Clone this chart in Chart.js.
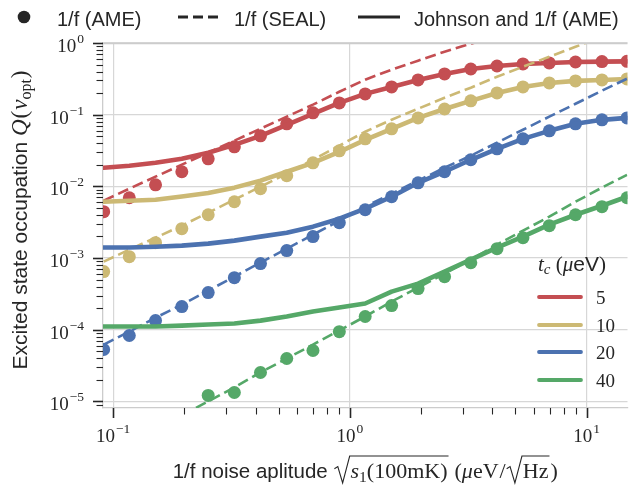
<!DOCTYPE html>
<html>
<head>
<meta charset="utf-8">
<script src="https://cdn.jsdelivr.net/npm/chart.js@4.4.1/dist/chart.umd.min.js"></script>
<style>
  html, body { margin: 0; padding: 0; background: #fff; }
  #c { display: block; }
</style>
</head>
<body>
<canvas id="c" width="634" height="485" style="width:634px;height:485px"></canvas>
<script>
// 1/f noise amplitude sqrt(s1(100mK)) in ueV/sqrt(Hz), shared by every series
const noiseAmp = [0.0912, 0.117, 0.151, 0.195, 0.252, 0.325, 0.419, 0.541, 0.698, 0.902,
                  1.16, 1.50, 1.94, 2.51, 3.24, 4.18, 5.38, 6.95, 8.97, 11.6, 14.8];

const tcLabels = ['5', '10', '20', '40'];
const tcColors = ['#C44E52', '#CCB974', '#4C72B0', '#55A868'];

// dots: 1/f (AME)
const ame5  = [0.00443, 0.00694, 0.0105, 0.0160, 0.0242, 0.0356, 0.0507, 0.0745, 0.106, 0.146,
               0.195, 0.244, 0.305, 0.370, 0.434, 0.478, 0.510, 0.527, 0.543, 0.55, 0.555];
const ame10 = [6.47e-4, 1.045e-3, 1.64e-3, 2.57e-3, 4.02e-3, 6.10e-3, 9.27e-3, 0.0141, 0.0213, 0.0313,
               0.0460, 0.0634, 0.0902, 0.120, 0.156, 0.201, 0.244, 0.277, 0.296, 0.305, 0.315];
const ame20 = [5.30e-5, 8.30e-5, 1.34e-4, 2.10e-4, 3.30e-4, 5.33e-4, 8.36e-4, 1.27e-3, 1.99e-3, 3.11e-3,
               4.72e-3, 7.16e-3, 0.0112, 0.0160, 0.0235, 0.0334, 0.0460, 0.0595, 0.0745, 0.0847, 0.0902];
const ame40 = [null, null, null, null, 1.21e-5, 1.33e-5, 2.53e-5, 3.97e-5, 5.13e-5, 9.4e-5,
               1.53e-4, 2.17e-4, 3.75e-4, 5.5e-4, 8.6e-4, 1.35e-3, 1.92e-3, 2.83e-3, 4.02e-3, 5.2e-3, 6.94e-3];

// dashed: 1/f (SEAL)
const seal5  = [0.00632, 0.00929, 0.01365, 0.0201, 0.0295, 0.0434, 0.0638, 0.0938, 0.138, 0.209,
                0.308, 0.424, 0.567, 0.757, 0.977, 1.26, 1.58, null, null, null, null];
const seal10 = [8.91e-4, 1.31e-3, 1.92e-3, 2.83e-3, 4.29e-3, 6.52e-3, 9.89e-3, 0.0150, 0.0236, 0.0370,
                0.0579, 0.0851, 0.121, 0.172, 0.238, 0.338, 0.466, 0.643, 0.885, 1.22, 1.64];
const seal20 = [6.19e-5, 9.40e-5, 1.47e-4, 2.24e-4, 3.51e-4, 5.50e-4, 8.63e-4, 1.35e-3, 2.12e-3, 3.32e-3,
                5.21e-3, 7.91e-3, 0.0120, 0.0182, 0.0268, 0.0407, 0.0617, 0.0938, 0.142, 0.216, 0.318];
const seal40 = [null, null, null, 6.4e-6, 1.0e-5, 1.57e-5, 2.53e-5, 3.97e-5, 6.2e-5, 9.75e-5,
                1.53e-4, 2.47e-4, 3.87e-4, 6.07e-4, 9.5e-4, 1.54e-3, 2.41e-3, 3.78e-3, 6.1e-3, 9.6e-3, 0.0145];

// solid: Johnson and 1/f (AME)
const joh5  = [0.0182, 0.0194, 0.0213, 0.0242, 0.0294, 0.0379, 0.0507, 0.0721, 0.103, 0.146,
               0.195, 0.244, 0.305, 0.370, 0.434, 0.478, 0.510, 0.527, 0.543, 0.55, 0.555];
const joh10 = [6.10e-3, 6.3e-3, 6.5e-3, 7.2e-3, 8.1e-3, 9.6e-3, 0.0120, 0.0160, 0.0213, 0.0303,
               0.0446, 0.0634, 0.0902, 0.120, 0.156, 0.201, 0.244, 0.277, 0.296, 0.305, 0.315];
const joh20 = [1.40e-3, 1.40e-3, 1.44e-3, 1.49e-3, 1.59e-3, 1.75e-3, 1.99e-3, 2.26e-3, 2.74e-3, 3.54e-3,
               4.88e-3, 7.16e-3, 0.0112, 0.0160, 0.0235, 0.0334, 0.0460, 0.0595, 0.0745, 0.0847, 0.0902];
const joh40 = [1.11e-4, 1.11e-4, 1.11e-4, 1.14e-4, 1.18e-4, 1.22e-4, 1.34e-4, 1.53e-4, 1.79e-4, 2.04e-4,
               2.32e-4, 3.40e-4, 4.40e-4, 6.47e-4, 9.5e-4, 1.40e-3, 1.99e-3, 2.92e-3, 4.02e-3, 5.37e-3, 7.16e-3];

const xTickExps = [-1, 0, 1];
const yTickExps = [0, -1, -2, -3, -4, -5];

const ameSets = [ame5, ame10, ame20, ame40];
const sealSets = [seal5, seal10, seal20, seal40];
const johSets = [joh5, joh10, joh20, joh40];

const INK = '#262626';
const SANS = '"Liberation Sans", Arial, sans-serif';
const SERIF = '"Liberation Serif", "Times New Roman", serif';

function pts(ys) {
  return noiseAmp.map((x, i) => ({x: x, y: ys[i]})).filter(p => p.y !== null);
}

let datasets = [];
for (let k = 0; k < 4; k++) {
  const c = tcColors[k];
  datasets.push({
    label: '1/f (AME) ' + tcLabels[k], data: pts(ameSets[k]), showLine: false,
    pointRadius: 6.5, backgroundColor: c, borderColor: c, pointBorderWidth: 0, clip: 0
  });
  datasets.push({
    label: '1/f (SEAL) ' + tcLabels[k], data: pts(sealSets[k]), showLine: true,
    borderColor: c, borderWidth: 2.6, borderDash: [11, 5], pointRadius: 0, clip: 0
  });
  datasets.push({
    label: 'Johnson ' + tcLabels[k], data: pts(johSets[k]), showLine: true,
    borderColor: c, borderWidth: 4.6, borderCapStyle: 'round', borderJoinStyle: 'round',
    pointRadius: 0, clip: 0
  });
}
// first dataset is painted last in Chart.js
datasets.reverse();

function logTicks(scale) {
  const out = [];
  const e0 = Math.floor(Math.log10(scale.min)), e1 = Math.ceil(Math.log10(scale.max));
  for (let e = e0; e <= e1; e++) {
    for (let m = 1; m <= 9; m++) {
      const v = m * Math.pow(10, e);
      if (v >= scale.min * 0.999 && v <= scale.max * 1.001) out.push({value: v, major: m === 1});
    }
  }
  scale.ticks = out;
}

const gridColor = (c) => (c.tick && c.tick.major) ? '#d7d7d7' : 'rgba(0,0,0,0)';

// text helpers
function segWidth(ctx, segs) {
  let w = 0;
  for (const s of segs) {
    if (s.sqrt) { w += s.size * 0.78 + segWidth(ctx, s.sqrt) + 2 + (s.gap || 0); continue; }
    ctx.font = s.f; w += ctx.measureText(s.t).width + (s.gap || 0);
  }
  return w;
}
function drawSegs(ctx, segs, x, y) {
  let cx = x;
  for (const s of segs) {
    if (s.sqrt) {
      const f = s.size;
      const x0 = cx;
      const innerStart = cx + f * 0.78;
      const innerEnd = drawSegs(ctx, s.sqrt, innerStart, y);
      ctx.beginPath();
      ctx.moveTo(x0 + 1, y - 0.42 * f);
      ctx.lineTo(x0 + 0.2 * f, y - 0.52 * f);
      ctx.lineTo(x0 + 0.42 * f, y + 0.22 * f);
      ctx.lineTo(x0 + 0.74 * f, y - 1.0 * f);
      ctx.lineTo(innerEnd + 1, y - 1.0 * f);
      ctx.lineWidth = 1.1;
      ctx.strokeStyle = INK;
      ctx.stroke();
      cx = innerEnd + 2 + (s.gap || 0);
      continue;
    }
    ctx.font = s.f;
    ctx.fillText(s.t, cx, y + (s.dy || 0));
    cx += ctx.measureText(s.t).width + (s.gap || 0);
  }
  return cx;
}
function powLabel(e) {
  return [
    {t: '10', f: '19px ' + SERIF, gap: 1},
    {t: (e < 0 ? '\u2212' : '') + Math.abs(e), f: '13.5px ' + SERIF, dy: -9}
  ];
}

const decor = {
  id: 'decor',
  afterDraw(chart) {
    const ctx = chart.ctx;
    const a = chart.chartArea;
    const xs = chart.scales.x, ys = chart.scales.y;
    ctx.save();
    ctx.textBaseline = 'alphabetic';
    ctx.textAlign = 'left';
    ctx.fillStyle = INK;

    // top spine
    ctx.strokeStyle = '#cccccc';
    ctx.lineWidth = 1.3;
    ctx.beginPath(); ctx.moveTo(a.left, a.top + 0.5); ctx.lineTo(a.right, a.top + 0.5); ctx.stroke();

    // tick marks, out of the axes
    ctx.strokeStyle = INK;
    xs.ticks.forEach(t => {
      const p = Math.round(xs.getPixelForValue(t.value)) + 0.5;
      ctx.lineWidth = t.major ? 1.6 : 1.1;
      ctx.beginPath(); ctx.moveTo(p, a.bottom); ctx.lineTo(p, a.bottom + (t.major ? 10 : 6.5)); ctx.stroke();
    });
    ys.ticks.forEach(t => {
      const p = Math.round(ys.getPixelForValue(t.value)) + 0.5;
      ctx.lineWidth = t.major ? 1.6 : 1.1;
      ctx.beginPath(); ctx.moveTo(a.left, p); ctx.lineTo(a.left - (t.major ? 10 : 6.5), p); ctx.stroke();
    });

    // tick labels
    xTickExps.forEach(e => {
      const p = xs.getPixelForValue(Math.pow(10, e));
      const segs = powLabel(e);
      const w = segWidth(ctx, segs);
      drawSegs(ctx, segs, p - w / 2, a.bottom + 34);
    });
    yTickExps.forEach(e => {
      const p = ys.getPixelForValue(Math.pow(10, e));
      const segs = powLabel(e);
      const w = segWidth(ctx, segs);
      drawSegs(ctx, segs, 84 - w, p + 9);
    });

    // x axis title
    const xTitle = [
      {t: '1/f noise aplitude ', f: '20.5px ' + SANS},
      {sqrt: [
        {t: 's', f: 'italic 22px ' + SERIF},
        {t: '1', f: '15.5px ' + SERIF, dy: 4},
        {t: '(100mK)', f: '22px ' + SERIF}
      ], size: 22, gap: 5},
      {t: '(', f: '22px ' + SERIF},
      {t: '\u03bc', f: 'italic 22px ' + SERIF},
      {t: 'eV', f: '22px ' + SERIF, gap: 1},
      {t: '/', f: '22px ' + SERIF},
      {sqrt: [{t: 'Hz', f: '22px ' + SERIF}], size: 22},
      {t: ')', f: '22px ' + SERIF}
    ];
    const wx = segWidth(ctx, xTitle);
    drawSegs(ctx, xTitle, (a.left + a.right) / 2 - wx / 2, 478);

    // y axis title
    const yTitle = [
      {t: 'Excited state occupation ', f: '21px ' + SANS},
      {t: 'Q', f: 'italic 23px ' + SERIF, gap: 1},
      {t: '(', f: '23px ' + SERIF, gap: 1},
      {t: 'v', f: 'italic 23px ' + SERIF},
      {t: 'opt', f: '16px ' + SERIF, dy: 4, gap: 1},
      {t: ')', f: '23px ' + SERIF}
    ];
    const wy = segWidth(ctx, yTitle);
    ctx.save();
    ctx.translate(27, 220 + wy / 2);
    ctx.rotate(-Math.PI / 2);
    drawSegs(ctx, yTitle, 0, 0);
    ctx.restore();

    // top legend
    ctx.fillStyle = INK;
    ctx.beginPath(); ctx.arc(24, 17, 6.3, 0, Math.PI * 2); ctx.fill();
    ctx.font = '20px ' + SANS;
    ctx.fillText('1/f (AME)', 57, 26);
    ctx.strokeStyle = INK; ctx.lineWidth = 2.8;
    ctx.setLineDash([10, 5]);
    ctx.beginPath(); ctx.moveTo(178, 17); ctx.lineTo(219, 17); ctx.stroke();
    ctx.setLineDash([]);
    ctx.fillText('1/f (SEAL)', 234, 26);
    ctx.beginPath(); ctx.moveTo(358, 17); ctx.lineTo(400, 17); ctx.stroke();
    ctx.fillText('Johnson and 1/f (AME)', 414, 26);

    // t_c legend
    const tTitle = [
      {t: 't', f: 'italic 21px ' + SERIF},
      {t: 'c', f: 'italic 15px ' + SERIF, dy: 3},
      {t: ' (', f: '21px ' + SERIF},
      {t: '\u03bc', f: 'italic 21px ' + SERIF},
      {t: 'eV', f: '21px ' + SANS},
      {t: ')', f: '21px ' + SERIF}
    ];
    drawSegs(ctx, tTitle, 538, 271);
    const rowY = [297, 325, 352, 380];
    ctx.lineCap = 'round';
    ctx.lineWidth = 3.8;
    tcLabels.forEach((lab, k) => {
      ctx.strokeStyle = tcColors[k];
      ctx.beginPath(); ctx.moveTo(539, rowY[k]); ctx.lineTo(581, rowY[k]); ctx.stroke();
      ctx.font = '19px ' + SERIF;
      ctx.fillStyle = INK;
      ctx.fillText(lab, 596, rowY[k] + 6.5);
    });
    ctx.restore();
  }
};

new Chart(document.getElementById('c'), {
  type: 'scatter',
  data: {datasets: datasets},
  options: {
    responsive: false,
    animation: false,
    devicePixelRatio: 1,
    layout: {padding: {top: 43, left: 0, right: 0, bottom: 0}},
    plugins: {legend: {display: false}, tooltip: {enabled: false}},
    events: [],
    scales: {
      x: {
        type: 'logarithmic', min: 0.0906, max: 14.87,
        afterBuildTicks: logTicks,
        afterFit: s => { s.height = 77; },
        ticks: {display: false},
        grid: {color: gridColor, lineWidth: 1.2, drawTicks: false},
        border: {display: true, color: '#cccccc', width: 1.3}
      },
      y: {
        type: 'logarithmic', min: 8.09e-6, max: 1,
        afterBuildTicks: logTicks,
        afterFit: s => { s.width = 103; },
        ticks: {display: false},
        grid: {color: gridColor, lineWidth: 1.2, drawTicks: false},
        border: {display: true, color: '#cccccc', width: 1.3}
      }
    }
  },
  plugins: [decor]
});
</script>
</body>
</html>
